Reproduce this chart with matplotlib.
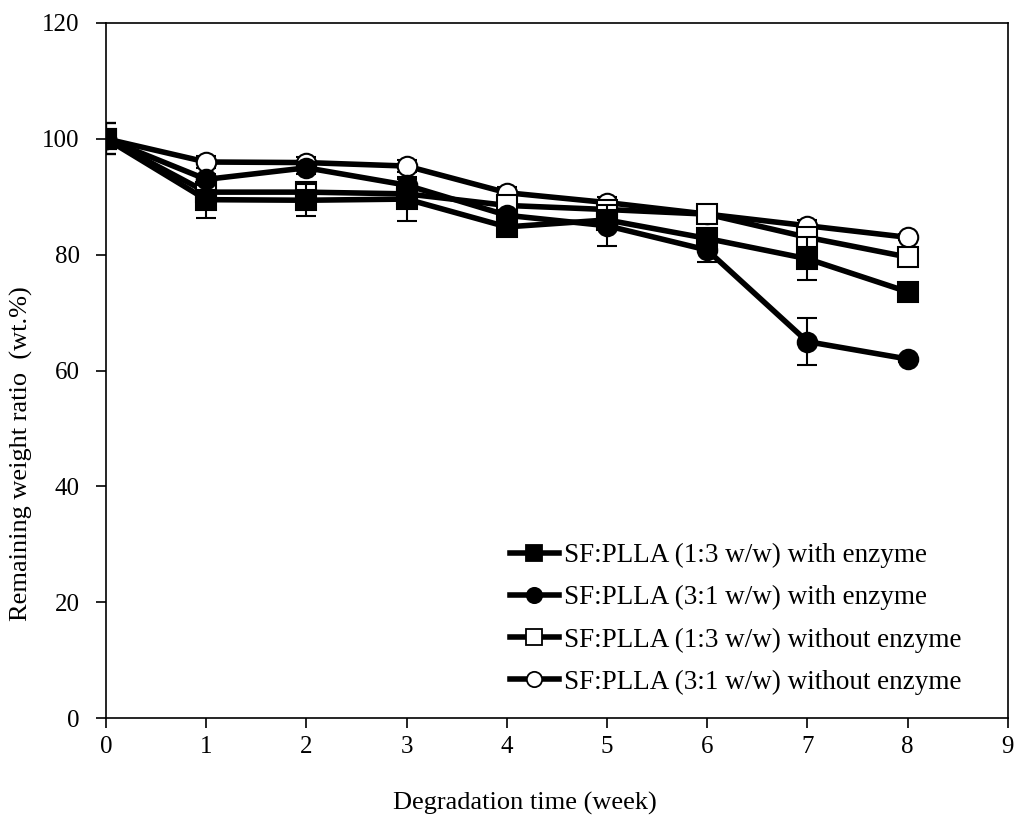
import numpy as np
import matplotlib
matplotlib.use("Agg")
import matplotlib.pyplot as plt
from matplotlib.lines import Line2D

plt.rcParams['font.family'] = ['Liberation Serif', 'DejaVu Serif']

weeks = [0, 1, 2, 3, 4, 5, 6, 7, 8]

# remaining weight (wt.%)
sq_enz = [100, 89.5, 89.4, 89.6, 84.8, 86.0, 82.8, 79.3, 73.6]
ci_enz = [100, 93.0, 95.0, 92.0, 86.8, 85.0, 80.8, 65.0, 62.0]
sq_no = [100, 90.8, 90.8, 90.5, 88.5, 87.8, 87.0, 83.0, 79.6]
ci_no = [100, 96.0, 95.9, 95.3, 90.7, 89.0, 87.0, 85.0, 83.0]

sq_enz_err = [2.7, 3.2, 2.8, 3.8, 1.5, 1.0, 1.2, 3.7, 0.5]
ci_enz_err = [2.7, 1.0, 1.0, 1.0, 1.0, 3.5, 2.0, 4.0, 0.5]
sq_no_err = [2.7, 1.0, 1.0, 1.0, 1.0, 1.0, 1.0, 1.0, 0.5]
ci_no_err = [2.7, 1.0, 1.0, 1.0, 1.0, 1.0, 1.0, 1.0, 0.5]

labels = ["SF:PLLA (1:3 w/w) with enzyme",
          "SF:PLLA (3:1 w/w) with enzyme",
          "SF:PLLA (1:3 w/w) without enzyme",
          "SF:PLLA (3:1 w/w) without enzyme"]

fig = plt.figure(figsize=(10.2, 8.19), dpi=100)
ax = fig.add_axes([0.104, 0.123, 0.884, 0.849])

series = [
    (sq_enz, sq_enz_err, 's', 'black', 8),
    (ci_enz, ci_enz_err, 'o', 'black', 7),
    (sq_no, sq_no_err, 's', 'white', 6),
    (ci_no, ci_no_err, 'o', 'white', 5),
]

handles = []
for (vals, err, mk, fc, z), lab in zip(series, labels):
    ax.errorbar(weeks, vals, yerr=err, color='black', lw=4,
                marker=mk, markersize=14, markerfacecolor=fc,
                markeredgecolor='black', markeredgewidth=1.5,
                ecolor='black', elinewidth=1.5, capsize=7, capthick=1.5,
                zorder=z)
    handles.append(Line2D([], [], color='black', lw=4, marker=mk,
                          markersize=11, markerfacecolor=fc,
                          markeredgecolor='black', markeredgewidth=1.3,
                          label=lab))

ax.set_xlim(0, 9)
ax.set_ylim(0, 120)
ax.set_xticks(range(0, 10))
ax.set_yticks(range(0, 121, 20))
ax.tick_params(direction='out', length=7, width=1.2, labelsize=18)
ax.tick_params(axis='y', pad=12)
ax.tick_params(axis='x', pad=6)
for s in ax.spines.values():
    s.set_linewidth(1.2)

ax.set_xlabel("Degradation time (week)", fontsize=19)
ax.xaxis.set_label_coords(0.4645, -0.1065)
ax.set_ylabel("Remaining weight ratio  (wt.%)", fontsize=19)
ax.yaxis.set_label_coords(-0.081, 0.38)

ax.legend(handles=handles, loc='upper left', bbox_to_anchor=(0.448, 0.252),
          frameon=False, fontsize=19.5, handlelength=1.8, handletextpad=0.18,
          labelspacing=0.63, borderpad=0, borderaxespad=0)

fig.savefig("out.png", dpi=100)
